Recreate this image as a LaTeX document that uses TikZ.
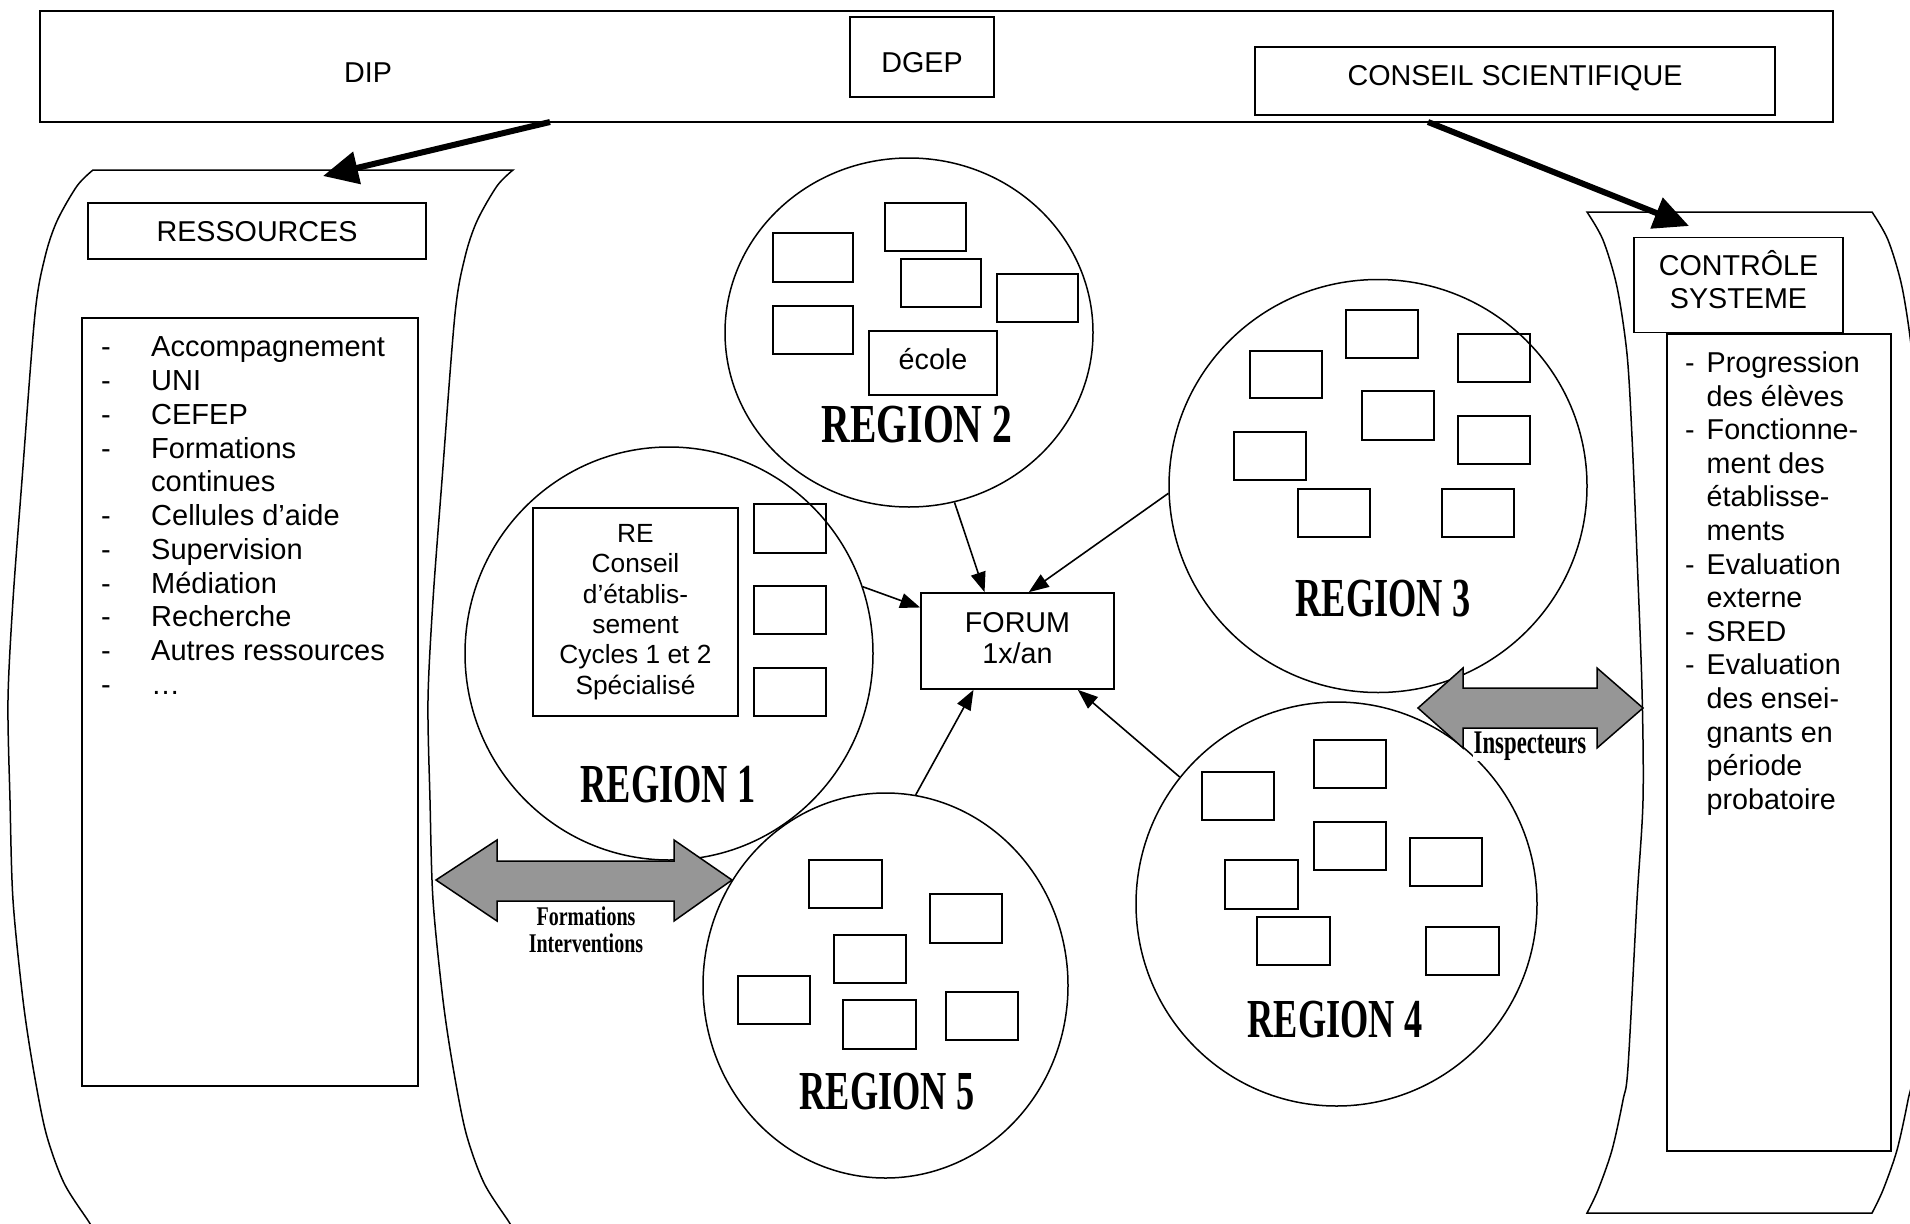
\documentclass[tikz,border=0pt]{standalone}
\usepackage{fontspec}
\usepackage{graphicx}
\setmainfont{Liberation Sans}
\newfontfamily\serifwa{Liberation Serif}
\usetikzlibrary{shapes.geometric,arrows.meta}
\definecolor{arrgray}{RGB}{150,150,150}
\newcommand\wordart[3]{\scalebox{#2}[1]{\serifwa\bfseries\fontsize{#1}{#1}\selectfont #3}}
\begin{document}
\begin{tikzpicture}[x=1pt,y=-1pt,
  tbox/.style={draw,line width=1.7pt,inner sep=0pt,rectangle},
  sbox/.style={draw,line width=1.6pt},
  regionc/.style={draw,ellipse,line width=1.5pt,inner sep=0pt},
  scrollp/.style={draw,line width=1.5pt},
  conn/.style={line width=1.6pt,-{Triangle[length=20pt,width=15pt]}},
  bigarr/.style={line width=6pt,-{Triangle[length=35pt,width=32pt]}},
  dblarr/.style={draw,line width=1.5pt,fill=arrgray,line join=miter},
  txt/.style={font=\fontsize{28.7}{33.6}\selectfont},
  wlabel/.style={inner sep=0pt}
]
\useasboundingbox (0,0) rectangle (1910,1223);
\clip (0,0) rectangle (1910,1223);

% top banner
\node[tbox,minimum width=1793pt,minimum height=111pt] (banner) at (936.5,66.5) {};
\node[txt,anchor=base,inner sep=0pt] (dip) at (368,82) {DIP};
\node[tbox,txt,minimum width=144pt,minimum height=80pt,text height=30pt,text depth=0pt] (dgep) at (922,57) {DGEP};
\node[tbox,txt,minimum width=520pt,minimum height=68pt,text height=21pt,text depth=13pt] (cs) at (1515,81) {CONSEIL SCIENTIFIQUE};

% left scroll
\draw[scrollp] plot[smooth] coordinates {(93,170) (77,186) (57,221) (45,257) (35,314) (22,480) (13,600) (8,700) (10,800) (13,900) (23,1000) (33,1067) (46,1133) (64,1183) (89,1222) (92,1228)}
  -- plot[smooth] coordinates {(512,1228) (509,1222) (484,1183) (466,1133) (453,1067) (443,1000) (433,900) (430,800) (428,700) (433,600) (442,480) (455,314) (465,257) (477,221) (497,186) (513,170)}
  -- cycle;
% right scroll
\draw[scrollp] plot[smooth] coordinates {(1587,212) (1603,240) (1617,287) (1627,354) (1632,437) (1637,556) (1642,690) (1643,800) (1637,900) (1628,1067) (1623,1100) (1612,1150) (1598,1190) (1587,1213)}
  -- plot[smooth] coordinates {(1872,1213) (1883,1190) (1897,1150) (1908,1100) (1913,1067) (1922,900) (1928,800) (1927,690) (1922,556) (1917,437) (1912,354) (1902,287) (1888,240) (1872,212)}
  -- cycle;

% RESSOURCES
\node[tbox,txt,minimum width=338pt,minimum height=56pt,text height=21pt,text depth=1pt] (res) at (257,231) {RESSOURCES};
\node[tbox,minimum width=336pt,minimum height=768pt] (reslist) at (250,702) {};
\node[font=\fontsize{29}{33.75}\selectfont,align=left,anchor=north west,inner sep=0pt] (reslisttxt) at (101,335.7)
 {\rule{0pt}{21pt}\makebox[50pt][l]{-}Accompagnement\\
  \makebox[50pt][l]{-}UNI\\
  \makebox[50pt][l]{-}CEFEP\\
  \makebox[50pt][l]{-}Formations\\
  \makebox[50pt][l]{}continues\\
  \makebox[50pt][l]{-}Cellules d’aide\\
  \makebox[50pt][l]{-}Supervision\\
  \makebox[50pt][l]{-}Médiation\\
  \makebox[50pt][l]{-}Recherche\\
  \makebox[50pt][l]{-}Autres ressources\\
  \makebox[50pt][l]{-}…};

% CONTROLE SYSTEME
\node[tbox,minimum width=209pt,minimum height=95pt] (ctrl) at (1738.5,285) {};
\node[txt,align=center,anchor=north,inner sep=0pt] (ctrltxt) at (1738.5,254) {\rule{0pt}{21pt}\smash{CONTRÔLE}\\SYSTEME};
\node[tbox,minimum width=224pt,minimum height=817pt] (ctrllist) at (1779,742.5) {};
\node[txt,align=left,anchor=north west,inner sep=0pt] (ctrllisttxt) at (1685,351.3)
 {\rule{0pt}{21pt}\makebox[21.5pt][l]{-}Progression\\
  \makebox[21.5pt][l]{}des élèves\\
  \makebox[21.5pt][l]{-}Fonctionne-\\
  \makebox[21.5pt][l]{}ment des\\
  \makebox[21.5pt][l]{}établisse-\\
  \makebox[21.5pt][l]{}ments\\
  \makebox[21.5pt][l]{-}Evaluation\\
  \makebox[21.5pt][l]{}externe\\
  \makebox[21.5pt][l]{-}SRED\\
  \makebox[21.5pt][l]{-}Evaluation\\
  \makebox[21.5pt][l]{}des ensei-\\
  \makebox[21.5pt][l]{}gnants en\\
  \makebox[21.5pt][l]{}période\\
  \makebox[21.5pt][l]{}probatoire};

% regions
\node[regionc,minimum width=408pt,minimum height=413pt] (r1) at (669,653.5) {};
\node[regionc,minimum width=368pt,minimum height=349pt] (r2) at (909,332.5) {};
\node[regionc,minimum width=418pt,minimum height=413pt] (r3) at (1378,486) {};
\node[regionc,minimum width=401pt,minimum height=404pt] (r4) at (1336.5,904) {};
\node[regionc,minimum width=365pt,minimum height=385pt] (r5) at (885.5,985.5) {};

% region 1 content
\node[tbox,align=center,font=\fontsize{26.3}{30.4}\selectfont,minimum width=205pt,minimum height=208pt] (re) at (635.5,612)
 {RE\\Conseil\\d’établis-\\sement\\Cycles 1 et 2\\Spécialisé};
\draw[sbox] (754,504) rectangle (826,553);
\draw[sbox] (754,586) rectangle (826,634);
\draw[sbox] (754,668) rectangle (826,716);

% region 2 content
\draw[sbox] (773,233) rectangle (853,282);
\draw[sbox] (885,203) rectangle (966,251);
\draw[sbox] (901,259) rectangle (981,307);
\draw[sbox] (997,274) rectangle (1078,322);
\draw[sbox] (773,306) rectangle (853,354);
\node[tbox,txt,minimum width=128pt,minimum height=64pt,text height=21pt,text depth=9pt] (ecole) at (933,363) {école};

% region 3 content
\draw[sbox] (1250,351) rectangle (1322,398);
\draw[sbox] (1346,310) rectangle (1418,358);
\draw[sbox] (1458,334) rectangle (1530,382);
\draw[sbox] (1362,391) rectangle (1434,440);
\draw[sbox] (1234,432) rectangle (1306,480);
\draw[sbox] (1458,416) rectangle (1530,464);
\draw[sbox] (1298,489) rectangle (1370,537);
\draw[sbox] (1442,489) rectangle (1514,537);

% region 4 content
\draw[sbox] (1202,772) rectangle (1274,820);
\draw[sbox] (1314,740) rectangle (1386,788);
\draw[sbox] (1314,822) rectangle (1386,870);
\draw[sbox] (1410,838) rectangle (1482,886);
\draw[sbox] (1225,860) rectangle (1298,909);
\draw[sbox] (1257,917) rectangle (1330,965);
\draw[sbox] (1426,927) rectangle (1499,975);

% region 5 content
\draw[sbox] (809,860) rectangle (882,908);
\draw[sbox] (930,894) rectangle (1002,943);
\draw[sbox] (834,935) rectangle (906,983);
\draw[sbox] (738,976) rectangle (810,1024);
\draw[sbox] (843,1000) rectangle (916,1049);
\draw[sbox] (946,992) rectangle (1018,1040);

% forum
\node[tbox,txt,align=center,font=\fontsize{28.7}{31}\selectfont,minimum width=193pt,minimum height=96pt] (forum) at (1017.5,641) {\smash{FORUM}\rule{0pt}{14pt}\\1x/an};

% connectors to forum
\draw[conn] (r1.19) -- (forum.161);
\draw[conn] (r2.-75) -- (forum.124);
\draw[conn] (r3.182) -- (forum.77);
\draw[conn] (r5.81) -- (forum.228);
\draw[conn] (r4.141) -- (forum.-39);

% thick arrows
\coordinate (dipout) at (550,122);
\coordinate (resin) at (323,176);
\draw[bigarr] (dipout) -- (resin);
\coordinate (csout) at (1428,122);
\coordinate (ctrlin) at (1689,226);
\draw[bigarr] (csout) -- (ctrlin);

% double arrows
\draw[dblarr] (436,880) -- (497,840) -- (497,861) -- (674,861) -- (674,840) -- (732,880) -- (674,921) -- (674,901) -- (497,901) -- (497,921) -- cycle;
\node[wlabel,anchor=base] (formlbl) at (586,925) {\wordart{27}{0.74}{Formations}};
\node[wlabel,anchor=base] (intlbl) at (586,952) {\wordart{27}{0.74}{Interventions}};

\draw[dblarr] (1418,708) -- (1463,668) -- (1463,688) -- (1597,688) -- (1597,668) -- (1643,708) -- (1597,748) -- (1597,728) -- (1463,728) -- (1463,748) -- cycle;
\node[wlabel,anchor=base,fill=white,inner sep=1pt] (insplbl) at (1530,753) {\wordart{33}{0.69}{Inspecteurs}};

% region labels
\node[wlabel] (r1lbl) at (668,785) {\wordart{55}{0.66}{REGION 1}};
\node[wlabel] (r2lbl) at (917,425) {\wordart{55}{0.72}{REGION 2}};
\node[wlabel] (r3lbl) at (1383,599) {\wordart{55}{0.66}{REGION 3}};
\node[wlabel] (r4lbl) at (1335,1020) {\wordart{55}{0.66}{REGION 4}};
\node[wlabel] (r5lbl) at (887,1092) {\wordart{55}{0.66}{REGION 5}};
\end{tikzpicture}
\end{document}
